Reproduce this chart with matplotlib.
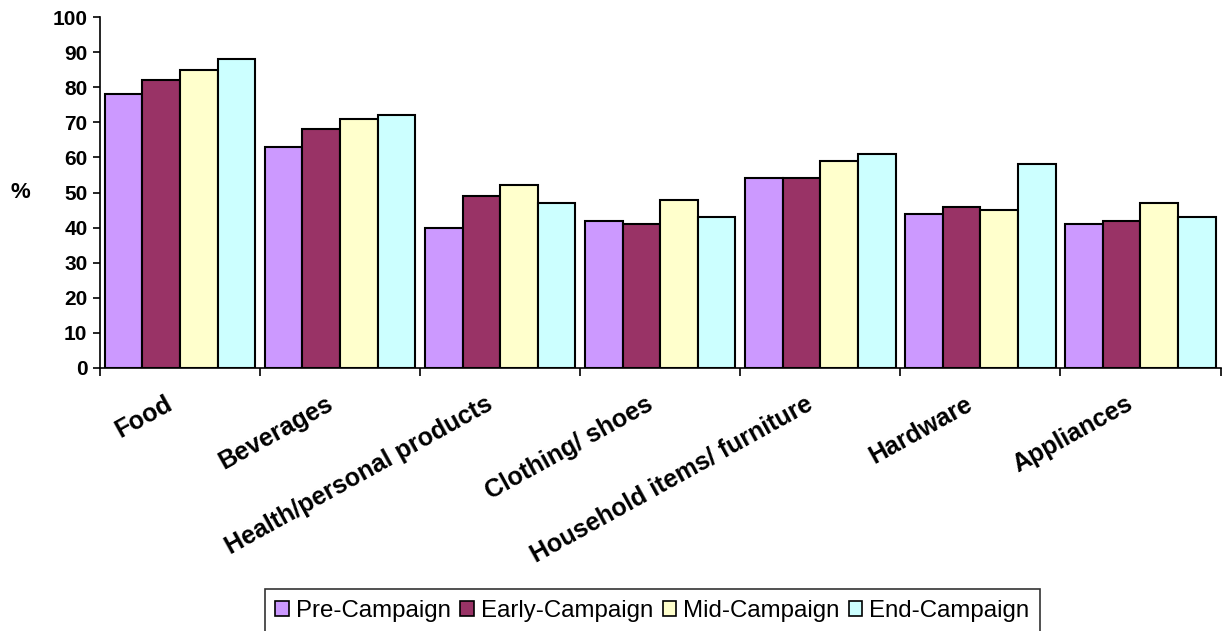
import matplotlib.pyplot as plt
import matplotlib.transforms as mtransforms
import numpy as np

plt.rcParams['font.family'] = ['Liberation Sans', 'DejaVu Sans']

categories = ["Food", "Beverages", "Health/personal products", "Clothing/ shoes",
              "Household items/ furniture", "Hardware", "Appliances"]
series_names = ["Pre-Campaign", "Early-Campaign", "Mid-Campaign", "End-Campaign"]
pre_campaign = [78, 63, 40, 42, 54, 44, 41]
early_campaign = [82, 68, 49, 41, 54, 46, 42]
mid_campaign = [85, 71, 52, 48, 59, 45, 47]
end_campaign = [88, 72, 47, 43, 61, 58, 43]
y_ticks = [0, 10, 20, 30, 40, 50, 60, 70, 80, 90, 100]

colors = ["#CC99FF", "#993366", "#FFFFCC", "#CCFFFF"]

fig = plt.figure(figsize=(12.22, 6.31), dpi=100)
ax = fig.add_axes([0.0818, 0.4168, 0.917, 0.5562])

n = len(categories)
centers = np.arange(n) + 0.5
width = 0.235
all_series = [pre_campaign, early_campaign, mid_campaign, end_campaign]
for i, (vals, name, col) in enumerate(zip(all_series, series_names, colors)):
    offs = (i - 1.5) * width
    ax.bar(centers + offs, vals, width, color=col, edgecolor="black",
           linewidth=1.5, label=name)

ax.set_xlim(0, n)
ax.set_ylim(0, 100)
ax.set_yticks(y_ticks)
ax.tick_params(axis="y", direction="out", length=5, width=1.2, labelsize=15, pad=4)
for lbl in ax.get_yticklabels():
    lbl.set_fontweight("bold")

# boundary ticks on the category axis, labels at group centres
ax.set_xticks(np.arange(n + 1))
ax.set_xticklabels([])
ax.tick_params(axis="x", which="major", direction="out", length=6, width=1.2)
ax.set_xticks(centers, minor=True)
ax.set_xticklabels(categories, minor=True, rotation=29, ha="right",
                   rotation_mode="anchor", fontsize=18, fontweight="bold")
ax.tick_params(axis="x", which="minor", length=0, pad=17)
shift = mtransforms.ScaledTranslation(-15 / 100, 0, fig.dpi_scale_trans)
for lbl in ax.get_xticklabels(minor=True):
    lbl.set_transform(lbl.get_transform() + shift)

for s in ["top", "right"]:
    ax.spines[s].set_visible(False)
for s in ["left", "bottom"]:
    ax.spines[s].set_linewidth(1.2)

fig.text(0.017, 0.695, "%", fontsize=16, fontweight="bold", ha="center", va="center")

leg = fig.legend(loc="upper center", bbox_to_anchor=(0.534, 0.066), ncol=4,
                 fontsize=17.3, frameon=True, fancybox=False, edgecolor="black",
                 handlelength=0.55, handleheight=0.55, handletextpad=0.3,
                 columnspacing=0.4, borderpad=0.45, borderaxespad=0)
leg.get_frame().set_linewidth(1.2)
for h in leg.legend_handles:
    h.set_linewidth(1.2)

fig.savefig("out.png", dpi=100)
